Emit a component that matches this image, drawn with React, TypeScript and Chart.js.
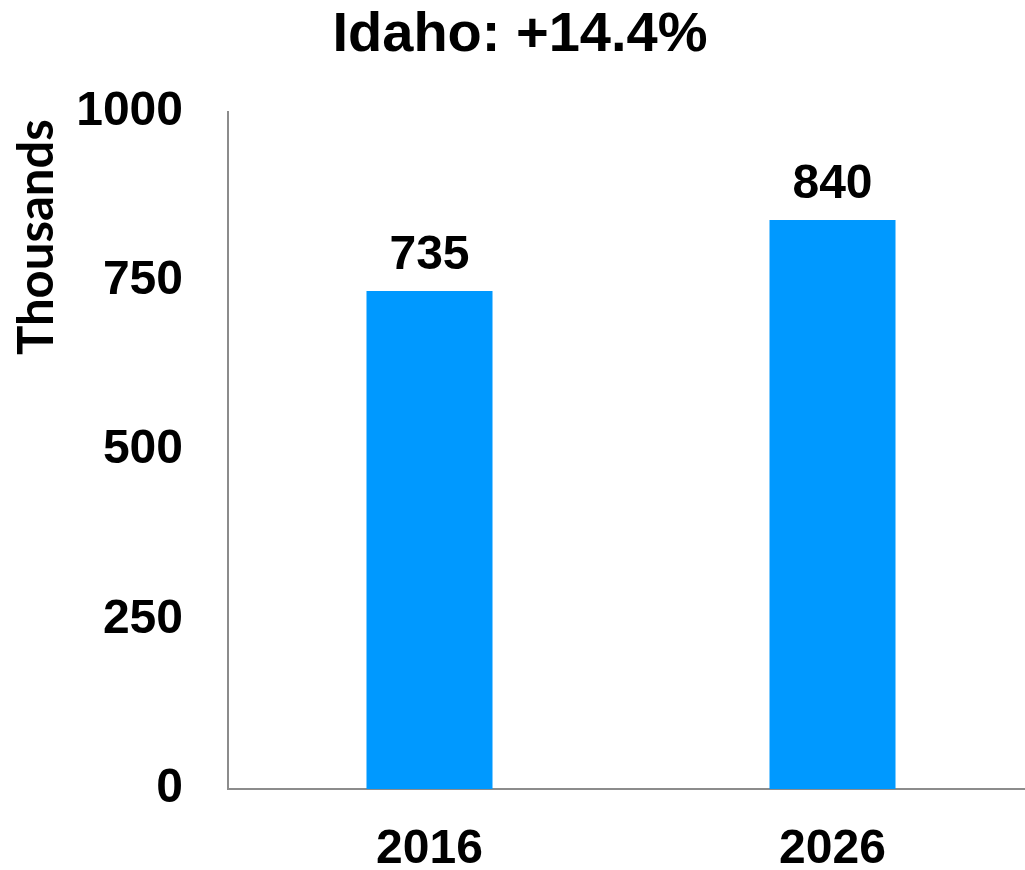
import React, { useEffect, useRef } from "react";
import { Chart, registerables } from "chart.js";

Chart.register(...registerables);

const categories: string[] = ["2016", "2026"];
const values: number[] = [735, 840];
const yTicks: number[] = [0, 250, 500, 750, 1000];
const chartTitle = "Idaho: +14.4%";
const yAxisTitle = "Thousands";

const NUM_FONT = "'Liberation Sans', Arial, sans-serif";
const LABEL_FONT = "Lato, 'Open Sans', sans-serif";

// The plot area in the reference runs slightly past the right edge of the window.
const CANVAS_W = 1034;
const CANVAS_H = 870;

export default function App() {
  const ref = useRef<HTMLCanvasElement | null>(null);

  useEffect(() => {
    if (!ref.current) return;
    const labelPlugin = {
      id: "valueLabels",
      afterDatasetsDraw(chart: any) {
        const ctx = chart.ctx;
        const meta = chart.getDatasetMeta(0);
        ctx.save();
        ctx.fillStyle = "#000";
        ctx.font = `bold 48px ${NUM_FONT}`;
        ctx.textAlign = "center";
        ctx.textBaseline = "alphabetic";
        meta.data.forEach((bar: any, i: number) => {
          ctx.fillText(String(values[i]), bar.x, bar.y - 22);
        });
        ctx.restore();
        // y axis title
        ctx.save();
        ctx.fillStyle = "#000";
        ctx.font = `bold 49px ${LABEL_FONT}`;
        ctx.translate(53, 355);
        ctx.rotate(-Math.PI / 2);
        ctx.textAlign = "left";
        ctx.textBaseline = "alphabetic";
        ctx.fillText(yAxisTitle, 0, 0);
        ctx.restore();
      },
    };

    const chart = new Chart(ref.current, {
      type: "bar",
      data: {
        labels: categories,
        datasets: [
          {
            data: values,
            backgroundColor: "#0099FF",
            borderWidth: 0,
            categoryPercentage: 1,
            barPercentage: 0.3127,
          },
        ],
      },
      options: {
        responsive: false,
        animation: false,
        layout: { padding: { left: 6, right: 0, top: 0, bottom: 0 } },
        plugins: {
          legend: { display: false },
          tooltip: { enabled: false },
          title: {
            display: true,
            text: chartTitle,
            color: "#000",
            font: { family: NUM_FONT, size: 56, weight: "bold", lineHeight: 1.2 },
            padding: { top: 2, bottom: 42.3 },
          },
        },
        scales: {
          x: {
            type: "category",
            offset: true,
            grid: { display: false, drawTicks: false },
            border: { display: true, color: "#8c8c8c", width: 2 },
            ticks: {
              color: "#000",
              font: { family: NUM_FONT, size: 48, weight: "bold", lineHeight: 1.2 },
              padding: 32,
              maxRotation: 0,
            },
            afterFit(scale: any) {
              scale.height = 81;
            },
          },
          y: {
            type: "linear",
            min: 0,
            max: 1000,
            afterBuildTicks(scale: any) {
              scale.ticks = yTicks.map((v) => ({ value: v }));
            },
            grid: { display: false, drawTicks: false },
            border: { display: true, color: "#8c8c8c", width: 2 },
            ticks: {
              color: "#000",
              font: { family: NUM_FONT, size: 48, weight: "bold", lineHeight: 1.2 },
              padding: 45,
              callback: (v: any) => String(v),
            },
            afterFit(scale: any) {
              scale.width = 222;
            },
          },
        },
      },
      plugins: [labelPlugin],
    });
    return () => chart.destroy();
  }, []);

  return (
    <div
      style={{
        position: "absolute",
        left: 0,
        top: 0,
        width: 1025,
        height: 870,
        overflow: "hidden",
        background: "#fff",
      }}
    >
      <canvas ref={ref} width={CANVAS_W} height={CANVAS_H} style={{ display: "block" }} />
    </div>
  );
}
